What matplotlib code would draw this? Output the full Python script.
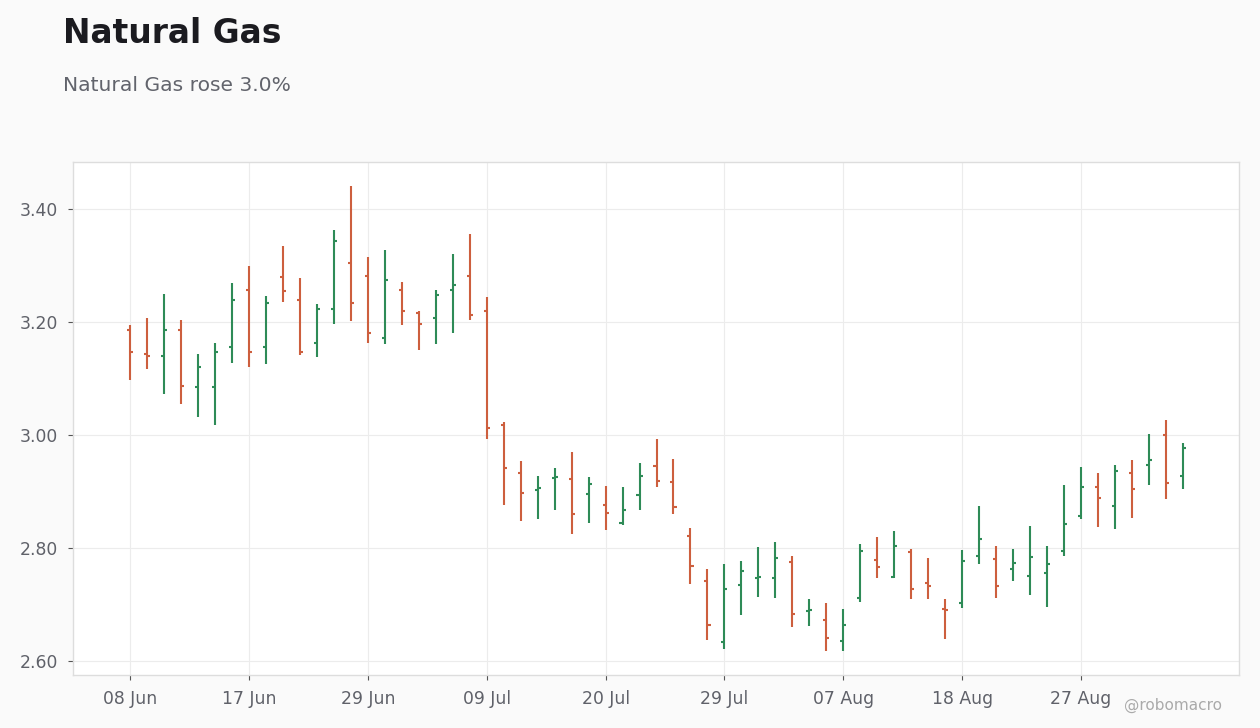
import matplotlib
matplotlib.use("Agg")
import matplotlib.pyplot as plt
import numpy as np

dates = [
    "08 Jun", "09 Jun", "10 Jun", "11 Jun", "12 Jun", "15 Jun", "16 Jun", "17 Jun",
    "18 Jun", "22 Jun", "23 Jun", "24 Jun", "25 Jun", "26 Jun", "29 Jun",
    "30 Jun", "01 Jul", "02 Jul", "06 Jul", "07 Jul", "08 Jul", "09 Jul",
    "10 Jul", "13 Jul", "14 Jul", "15 Jul", "16 Jul", "17 Jul", "20 Jul",
    "21 Jul", "22 Jul", "23 Jul", "24 Jul", "27 Jul", "28 Jul", "29 Jul",
    "30 Jul", "31 Jul", "03 Aug", "04 Aug", "05 Aug", "06 Aug", "07 Aug",
    "10 Aug", "11 Aug", "12 Aug", "13 Aug", "14 Aug", "17 Aug", "18 Aug",
    "19 Aug", "20 Aug", "21 Aug", "24 Aug", "25 Aug", "26 Aug", "27 Aug",
    "28 Aug", "31 Aug", "01 Sep", "02 Sep", "03 Sep", "04 Sep",
]

opens = [3.186, 3.143, 3.139, 3.186, 3.085, 3.085, 3.156, 3.257, 3.155, 3.280,
         3.238, 3.162, 3.223, 3.304, 3.282, 3.172, 3.257, 3.215, 3.206, 3.256,
         3.282, 3.220, 3.017, 2.932, 2.903, 2.923, 2.922, 2.895, 2.876, 2.844,
         2.893, 2.945, 2.916, 2.821, 2.742, 2.633, 2.734, 2.746, 2.746, 2.775,
         2.688, 2.672, 2.635, 2.711, 2.779, 2.749, 2.792, 2.737, 2.691, 2.703,
         2.786, 2.781, 2.763, 2.751, 2.755, 2.794, 2.856, 2.907, 2.875, 2.932,
         2.946, 3.000, 2.927]
highs = [3.194, 3.207, 3.250, 3.203, 3.143, 3.162, 3.269, 3.299, 3.246, 3.335,
         3.278, 3.232, 3.363, 3.441, 3.314, 3.328, 3.271, 3.220, 3.257, 3.321,
         3.356, 3.244, 3.022, 2.953, 2.928, 2.942, 2.969, 2.926, 2.910, 2.907,
         2.951, 2.992, 2.958, 2.836, 2.762, 2.772, 2.776, 2.802, 2.811, 2.786,
         2.709, 2.703, 2.691, 2.806, 2.819, 2.830, 2.798, 2.782, 2.710, 2.796,
         2.874, 2.804, 2.798, 2.839, 2.804, 2.912, 2.944, 2.933, 2.947, 2.956,
         3.002, 3.027, 2.986]
lows = [3.098, 3.117, 3.073, 3.055, 3.032, 3.017, 3.128, 3.121, 3.126, 3.235,
        3.142, 3.137, 3.197, 3.202, 3.163, 3.160, 3.195, 3.151, 3.160, 3.181,
        3.204, 2.992, 2.876, 2.848, 2.851, 2.867, 2.824, 2.844, 2.831, 2.840,
        2.867, 2.907, 2.860, 2.736, 2.637, 2.621, 2.681, 2.713, 2.711, 2.660,
        2.661, 2.617, 2.617, 2.704, 2.746, 2.747, 2.710, 2.710, 2.638, 2.693,
        2.771, 2.712, 2.742, 2.716, 2.696, 2.785, 2.851, 2.837, 2.833, 2.853,
        2.911, 2.886, 2.904]
closes = [3.147, 3.140, 3.186, 3.087, 3.121, 3.147, 3.239, 3.146, 3.234, 3.254,
          3.147, 3.222, 3.344, 3.233, 3.181, 3.275, 3.220, 3.197, 3.247, 3.266,
          3.213, 3.012, 2.941, 2.898, 2.906, 2.925, 2.860, 2.913, 2.861, 2.867,
          2.927, 2.918, 2.872, 2.768, 2.663, 2.727, 2.759, 2.748, 2.782, 2.683,
          2.690, 2.640, 2.663, 2.795, 2.767, 2.804, 2.728, 2.733, 2.690, 2.776,
          2.815, 2.733, 2.774, 2.783, 2.771, 2.843, 2.907, 2.889, 2.936, 2.905,
          2.956, 2.914, 2.976]

y_ticks = [2.60, 2.80, 3.00, 3.20, 3.40]
title = "Natural Gas"
subtitle = "Natural Gas rose 3.0%"
watermark = "@robomacro"

UP = "#2e8b57"
DOWN = "#cd5f3e"

fig = plt.figure(figsize=(12.6, 7.28), dpi=100, facecolor="#fafafa")
ax = fig.add_axes([73 / 1260, 1 - 675 / 728, (1239 - 73) / 1260, (675 - 162) / 728])
ax.set_facecolor("white")

x = np.arange(len(dates))
o = np.array(opens); h = np.array(highs); l = np.array(lows); c = np.array(closes)
colors = [UP if cc >= oo else DOWN for oo, cc in zip(o, c)]
tick_len = 0.18

ax.vlines(x, l, h, colors=colors, linewidth=1.5, zorder=3)
ax.hlines(o, x - tick_len, x, colors=colors, linewidth=1.5, zorder=3)
ax.hlines(c, x, x + tick_len, colors=colors, linewidth=1.5, zorder=3)

ax.set_xlim(-3.36, 65.3)
ax.set_ylim(2.575, 3.483)

xt = x[::7]
ax.set_xticks(xt)
ax.set_xticklabels([dates[i] for i in xt])
ax.set_yticks(y_ticks)
ax.set_yticklabels([f"{v:.2f}" for v in y_ticks])

ax.grid(True, color="#ececec", linewidth=0.8, zorder=0)
ax.set_axisbelow(True)
for s in ax.spines.values():
    s.set_color("#dddddd")
    s.set_linewidth(1.0)
ax.tick_params(axis="both", colors="#5f6169", labelsize=12.4, length=3.5, width=0.8, pad=7)
ax.tick_params(axis="both", color="#555555")

fig.text(63 / 1260, 1 - 43 / 728, title, fontsize=23.7, fontweight="bold",
         color="#1b1b20", va="baseline", ha="left")
fig.text(63 / 1260, 1 - 91 / 728, subtitle, fontsize=14.6,
         color="#62646c", va="baseline", ha="left")
fig.text(1222 / 1260, 1 - 710 / 728, watermark, fontsize=11,
         color="#aaaaaa", va="baseline", ha="right")

fig.savefig("out.png", dpi=100, facecolor=fig.get_facecolor())
